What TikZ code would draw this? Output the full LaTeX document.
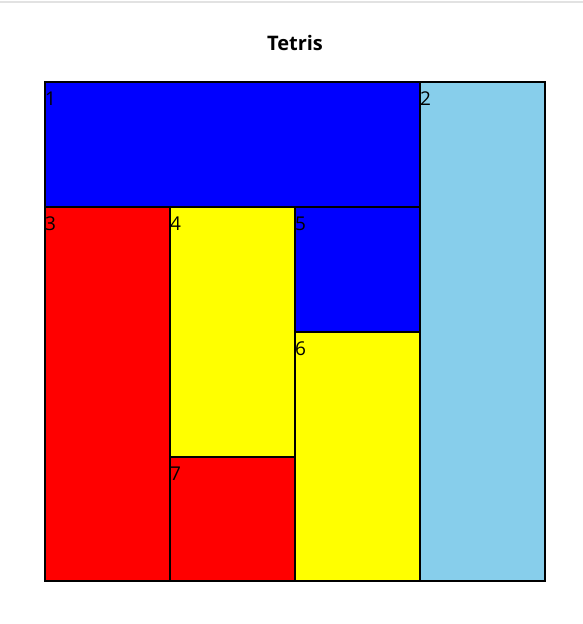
\documentclass[tikz,border=0pt]{standalone}
\usepackage{fontspec}
\setmainfont{Open Sans}
\definecolor{skyb}{HTML}{87CEEB}
\definecolor{topline}{HTML}{E2E2E2}
\definecolor{tblue}{HTML}{0000FF}
\definecolor{tred}{HTML}{FF0000}
\definecolor{tyellow}{HTML}{FFFF00}
\begin{document}
\begin{tikzpicture}[x=1pt,y=-1pt,
  cell/.style={draw=black,line width=1.3pt},
  lbl/.style={anchor=base west,inner sep=0pt,font=\fontsize{19}{19}\selectfont},
]
\useasboundingbox (0,0) rectangle (583,624);
\fill[white] (0,0) rectangle (583,624);
\draw[topline,line width=1.5pt] (0,2) -- (583,2);
\node[font=\bfseries\fontsize{20}{20}\selectfont,anchor=base] (title) at (295,50) {Tetris};
% blocks
\filldraw[cell,fill=tblue] (45,82) rectangle (420,207);
\filldraw[cell,fill=skyb] (420,82) rectangle (545,581);
\filldraw[cell,fill=tred] (45,207) rectangle (170,581);
\filldraw[cell,fill=tyellow] (170,207) rectangle (295,457);
\filldraw[cell,fill=tblue] (295,207) rectangle (420,332);
\filldraw[cell,fill=tyellow] (295,332) rectangle (420,581);
\filldraw[cell,fill=tred] (170,457) rectangle (295,581);
% labels
\node[lbl] (l1) at (45,105) {1};
\node[lbl] (l2) at (420,105) {2};
\node[lbl] (l3) at (45,230) {3};
\node[lbl] (l4) at (170,230) {4};
\node[lbl] (l5) at (295,230) {5};
\node[lbl] (l6) at (295,355) {6};
\node[lbl] (l7) at (170,480) {7};
\end{tikzpicture}
\end{document}
